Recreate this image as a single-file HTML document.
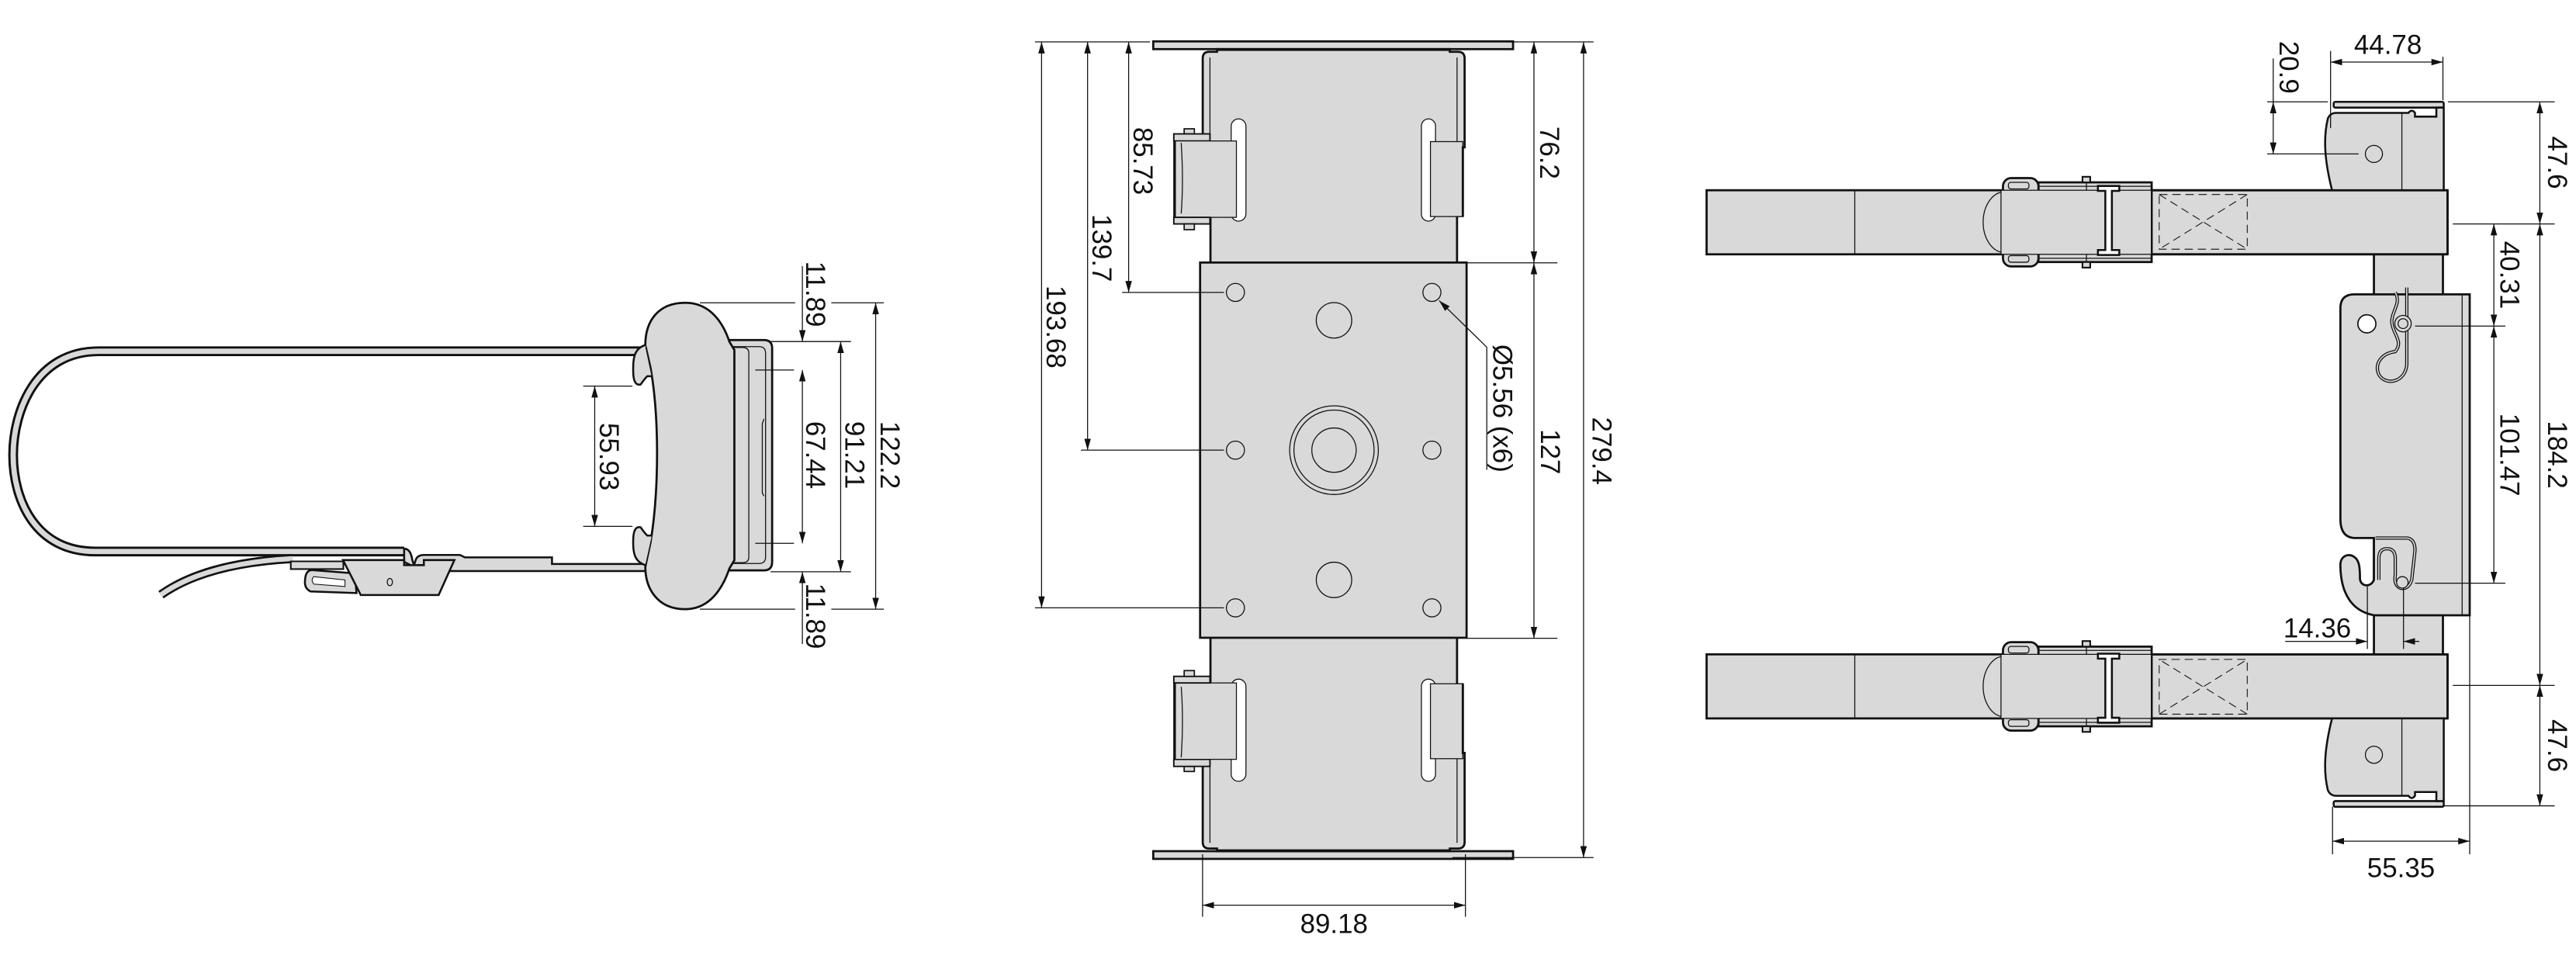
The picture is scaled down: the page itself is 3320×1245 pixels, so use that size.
<!DOCTYPE html>
<html><head><meta charset="utf-8"><style>
html,body{margin:0;padding:0;background:#fff;}
svg{display:block;}
text{font-family:"Liberation Sans",sans-serif;font-size:16.5px;fill:#111;}
</style></head><body>
<svg width="3320" height="1245" viewBox="0 0 1568 588" preserveAspectRatio="none" xmlns="http://www.w3.org/2000/svg">
<defs>
<marker id="a" markerUnits="userSpaceOnUse" markerWidth="7" markerHeight="4" refX="7" refY="2" orient="auto-start-reverse"><path d="M0,0 L7,2 L0,4 z" fill="#111"/></marker>
</defs>
<g fill="none" stroke="#111" stroke-width="0.6">

<!-- ================= LEFT VIEW ================= -->
<path d="M392 213.8 L60 213.8 C22 213.8 8 250 8 277 C8 305 22 335.7 58 335.7 L246 335.7" stroke="#111" stroke-width="6"/>
<path d="M392 213.8 L60 213.8 C22 213.8 8 250 8 277 C8 305 22 335.7 58 335.7 L246 335.7" stroke="#d9d9d9" stroke-width="3.2"/>
<path d="M178 340 C140 342 115 350 98 362" stroke="#111" stroke-width="5.5"/>
<path d="M178 340 C140 342 115 350 98 362" stroke="#d9d9d9" stroke-width="3"/>
<path d="M177 341.7 L209 341.7 L209 346.4 L177 346.4 Z" fill="#d9d9d9" stroke-width="1"/>
<path d="M246 334 Q250 334 251 341 L252 344 L253 341 Q254 337.8 258 337.8 L280 337.8 L283 339.3 L336 339.3 L336 343.3 L393 343.3 L393 347.6 L274 347.6 L274 344 L254 344 Q252 346 250 344 L246 342 L246 334 Z" fill="#d9d9d9" stroke-width="1.2"/>
<path d="M190 347 L216 349 L217 361 L189 360 Q185 358 185.7 353 Q186 347 190 347 Z" fill="#d9d9d9" stroke-width="1.2"/>
<path d="M191 351 L210 353 L210 357 L191 355.5 Q189 353 191 351 Z" fill="#fff" stroke-width="0.5"/>
<path d="M208.8 340.9 L246 340.9 L246 344 L258 344 L258 340.9 L276.6 340.9 L267 362.2 L219.6 362.2 Z" fill="#d9d9d9" stroke-width="1.2"/>
<ellipse cx="237.3" cy="354.3" rx="1.6" ry="2.2" stroke-width="0.6"/>
<path d="M442.4 207 L465 207 Q470 207 470 212 L470 342 Q470 347.2 465 347.2 L442.4 347.2 Z" fill="#d9d9d9" stroke-width="1.3"/>
<path d="M444 211 L462 211 Q466 211 466 215 L466 339 Q466 343 462 343 L444 343" stroke-width="0.6"/>
<path d="M445.6 211.5 L452 211.5 Q455.8 211.5 455.8 215 L455.8 339 Q455.8 342.5 452 342.5 L445.6 342.5" stroke-width="0.6"/>
<path d="M465 255 L464 258 L464 300 L465 302" stroke-width="0.6"/>
<path d="M417 184.3 C432 184.3 440 196 444 208 L447 213 L447 341 L444 346 C440 358 432 370.8 417 370.8 C400 370.8 392.8 358 392.8 345 L396 330 C401 300 401.5 255 396 224 L392.8 210 C392.8 195 401 184.3 417 184.3 Z" fill="#d9d9d9" stroke-width="1.3"/>
<path d="M393 210 C386 212 385 218 385.5 228 Q386 235 390 234 Q392 231 394 229 L397 229" fill="#d9d9d9" stroke-width="1.2"/>
<path d="M393 344 C386 342 385 336 385.5 327 Q386 320 390 321 Q392 324 394 326 L397 326" fill="#d9d9d9" stroke-width="1.2"/>
<path d="M393 211 L397 230 M393 344 L397 326" stroke-width="0.5"/>
<path d="M355 235 L385 235 M355 320.4 L385 320.4"/>
<path d="M362 235 L362 320.4" marker-start="url(#a)" marker-end="url(#a)"/>
<path d="M426 184.3 L484 184.3 M506 184.3 L538 184.3 M426 370.8 L484 370.8 M506 370.8 L538 370.8"/>
<path d="M469 207.9 L518 207.9 M469 348 L518 348 M459.7 225.2 L483.3 225.2 M459.7 330.7 L483.3 330.7"/>
<path d="M488.4 162 L488.4 207.9" marker-end="url(#a)"/>
<path d="M488.4 392 L488.4 348" marker-end="url(#a)"/>
<path d="M488.4 225.2 L488.4 330.7" marker-start="url(#a)" marker-end="url(#a)"/>
<path d="M511.7 207.9 L511.7 348" marker-start="url(#a)" marker-end="url(#a)"/>
<path d="M533 184.3 L533 370.8" marker-start="url(#a)" marker-end="url(#a)"/>

<!-- ================= MIDDLE VIEW ================= -->
<g id="mup">
<rect x="702" y="25.2" width="219" height="4.7" fill="#d9d9d9" stroke-width="1.3"/>
<path d="M736.8 160 L736.8 132 L732.1 132 L732.1 35.5 Q732.1 31.5 736 31.5 L740.8 31.5 L740.8 29.9 L882.5 29.9 L882.5 31.5 L887.5 31.5 Q891.5 31.5 891.5 35.5 L891.5 89.7 L890.4 89.7 L890.4 131.5 L886.9 131.5 L886.9 160 Z" fill="#d9d9d9" stroke-width="1.3"/>
<path d="M740.8 30.7 L882.5 30.7 M736.5 35 L736.5 132 M886.9 35 L886.9 89"/>
<rect x="749.4" y="72.4" width="9" height="62.2" rx="4.5" fill="#fff" stroke-width="0.6"/>
<rect x="865.2" y="72.4" width="8.6" height="62.2" rx="4.3" fill="#fff" stroke-width="0.6"/>
<rect x="720.8" y="78.4" width="6.2" height="4" fill="#d9d9d9" stroke-width="0.8"/>
<rect x="714.5" y="81.5" width="22" height="4.3" fill="#d9d9d9" stroke-width="0.9"/>
<rect x="714.5" y="85.8" width="38.1" height="46.5" fill="#d9d9d9" stroke-width="0.6"/>
<path d="M715 85.8 L715 132.3" stroke-width="1.5"/>
<path d="M719 87 Q720.5 110 719 130"/>
<rect x="714.5" y="132.3" width="22" height="4" fill="#d9d9d9" stroke-width="0.9"/>
<rect x="720.8" y="136.3" width="6.2" height="3.5" fill="#d9d9d9" stroke-width="0.8"/>
<rect x="870.7" y="86.2" width="19.7" height="45.6" fill="#d9d9d9" stroke-width="0.6"/>
<path d="M890.4 89 L890.4 131.5" stroke-width="1.3"/>
</g>
<use href="#mup" transform="matrix(1 0 0 -1 0 548)"/>
<rect x="730.5" y="159.8" width="162.2" height="228.4" fill="#d9d9d9" stroke-width="1.3"/>
<g fill="#d9d9d9" stroke-width="0.6">
<circle cx="752" cy="178" r="5.5"/><circle cx="871.6" cy="178" r="5.5"/>
<circle cx="752" cy="274" r="5.5"/><circle cx="871.6" cy="274" r="5.5"/>
<circle cx="752" cy="370" r="5.5"/><circle cx="871.6" cy="370" r="5.5"/>
<circle cx="812" cy="195" r="10.8"/><circle cx="812" cy="353" r="10.8"/>
<circle cx="812" cy="274" r="27"/><circle cx="812" cy="274" r="24.4"/><circle cx="812" cy="274" r="13.5"/>
</g>
<path d="M905 211.3 L876 183" marker-end="url(#a)"/>
<path d="M905 211.3 L905 286"/>
<path d="M630 25.5 L700 25.5 M683 178 L745 178 M658 274 L745 274 M630 370 L745 370"/>
<path d="M634 25.5 L634 370" marker-start="url(#a)" marker-end="url(#a)"/>
<path d="M662 25.5 L662 274" marker-start="url(#a)" marker-end="url(#a)"/>
<path d="M687 25.5 L687 178" marker-start="url(#a)" marker-end="url(#a)"/>
<path d="M917 25.5 L970 25.5 M893 160 L948 160 M893 388.5 L948 388.5 M884 522 L970 522"/>
<path d="M933.7 25.5 L933.7 160" marker-start="url(#a)" marker-end="url(#a)"/>
<path d="M933.7 160 L933.7 388.5" marker-start="url(#a)" marker-end="url(#a)"/>
<path d="M963.9 25.5 L963.9 522" marker-start="url(#a)" marker-end="url(#a)"/>
<path d="M732 520 L732 558 M892 520 L892 558"/>
<path d="M732 551 L892 551" marker-start="url(#a)" marker-end="url(#a)"/>

<!-- ================= RIGHT VIEW ================= -->
<rect x="1445" y="150" width="42" height="252" fill="#d9d9d9" stroke-width="1.3"/>
<g id="rup">
<rect x="1038.8" y="115.8" width="451" height="39" fill="#d9d9d9" stroke-width="1.3"/>
<path d="M1129 115.8 L1129 154.8"/>
<path d="M1218 117 A13 18.5 0 0 0 1218 153.5"/>
<rect x="1240.8" y="111" width="68.9" height="48.5" fill="#d9d9d9" stroke-width="1.3"/>
<path d="M1240.8 113.4 L1309.7 113.4 M1240.8 157.2 L1309.7 157.2 M1270 111 L1270 159.5"/>
<rect x="1267.6" y="107.6" width="4.7" height="3.4" fill="#d9d9d9" stroke-width="1"/>
<rect x="1267.6" y="159.5" width="4.7" height="3.4" fill="#d9d9d9" stroke-width="1"/>
<rect x="1219.2" y="108.4" width="21.6" height="53.8" rx="5" fill="#d9d9d9" stroke-width="1.3"/>
<rect x="1222.5" y="111" width="12.5" height="4" rx="1.5"/>
<rect x="1222.5" y="155.6" width="12.5" height="4" rx="1.5"/>
<rect x="1218" y="115.8" width="64.5" height="39" fill="#d9d9d9" stroke-width="0.6"/>
<rect x="1282.5" y="115.8" width="27" height="39" fill="#d9d9d9" stroke-width="0.6"/>
<path d="M1277 113.2 h13 v3 h-4.5 v36 h4.5 v3 h-13 v-3 h4.5 v-36 h-4.5 z" fill="#fff" stroke-width="1.2"/>
<path d="M1309.7 115.8 L1489.8 115.8 M1309.7 154.8 L1489.8 154.8" stroke-width="1.3"/>
<path d="M1489.8 115.8 L1489.8 154.8" stroke-width="1.3"/>
<g stroke-dasharray="5 3" stroke-width="0.5">
<rect x="1314.3" y="118.4" width="53.6" height="33.3"/>
<path d="M1314.3 118.4 L1367.9 151.7 M1367.9 118.4 L1314.3 151.7"/>
</g>
<rect x="1420.5" y="62" width="67" height="3.5" rx="1" fill="#d9d9d9" stroke-width="1.2"/>
<path d="M1419.5 115.8 C1415 98 1414 84 1417 72 Q1418.5 68.7 1422 68.7 L1466 68.7 Q1468 66 1470 68.7 L1470 71 L1483 71 L1483 65.5 L1487.5 65.5 L1487.5 115.8 Z" fill="#d9d9d9" stroke-width="1.2"/>
<path d="M1462 69 L1462 115.8"/>
<circle cx="1445" cy="93.7" r="5.2" fill="#d9d9d9"/>
</g>
<use href="#rup" transform="matrix(1 0 0 -1 0 553.1)"/>
<path d="M1433 179.2 L1503.3 179.2 L1503.3 374.5 L1445 374.5 C1432 372 1425 362 1424.6 345 C1424 338 1430 336.5 1433 339 C1436 341 1436.5 345 1436.5 352 C1436.5 357 1443 358 1445 353 L1445 327.5 L1434 327.5 Q1424.6 327.5 1424.6 316 L1424.6 187.6 Q1424.6 179.2 1433 179.2 Z" fill="#d9d9d9" stroke-width="1.3"/>
<path d="M1445 179.2 L1487 179.2 M1445 374.5 L1487 374.5 M1498.7 179.2 L1498.7 374.5"/>
<circle cx="1440.7" cy="197.1" r="5.5" fill="#fff" stroke-width="0.8"/>
<path d="M1458 178 C1462 185 1455 190 1456 197 C1457 204 1463 208 1458 214 C1450 215 1445 221 1448 228 C1452 235 1464 233 1465 222 L1465 175" stroke-width="2"/>
<path d="M1458 178 C1462 185 1455 190 1456 197 C1457 204 1463 208 1458 214 C1450 215 1445 221 1448 228 C1452 235 1464 233 1465 222 L1465 175" stroke="#d9d9d9" stroke-width="0.8"/>
<circle cx="1462.7" cy="197" r="5" fill="#d9d9d9"/><circle cx="1462.7" cy="197" r="3"/>
<path d="M1446 327.5 L1465 327.5 Q1470 328 1470 335 L1468 353 Q1466 359 1461 358 Q1457 356 1458 350 L1458 340 Q1458 334 1453 334 Q1448 334 1448 340 L1448 353" stroke-width="2"/>
<path d="M1446 327.5 L1465 327.5 Q1470 328 1470 335 L1468 353 Q1466 359 1461 358 Q1457 356 1458 350 L1458 340 Q1458 334 1453 334 Q1448 334 1448 340 L1448 353" stroke="#d9d9d9" stroke-width="0.8"/>
<circle cx="1462.3" cy="354.5" r="3.5" fill="#d9d9d9"/>
<path d="M1418.6 31 L1418.6 78 M1487 34.6 L1487 61"/>
<path d="M1418.6 37.8 L1487 37.8" marker-start="url(#a)" marker-end="url(#a)"/>
<path d="M1380 62 L1417 62 M1380 93.7 L1435.7 93.7 M1383.7 35.6 L1383.7 62"/>
<path d="M1383.7 62 L1383.7 93.7" marker-start="url(#a)" marker-end="url(#a)"/>
<path d="M1490 62 L1555 62 M1493 136.3 L1555 136.3 M1493 417.2 L1555 417.2 M1487 490.5 L1555 490.5 M1470 198.5 L1525 198.5 M1470 355 L1525 355"/>
<path d="M1546 62 L1546 136.3" marker-start="url(#a)" marker-end="url(#a)"/>
<path d="M1546 136.3 L1546 417.2" marker-start="url(#a)" marker-end="url(#a)"/>
<path d="M1546 417.2 L1546 490.5" marker-start="url(#a)" marker-end="url(#a)"/>
<path d="M1518 136.3 L1518 198.5" marker-start="url(#a)" marker-end="url(#a)"/>
<path d="M1518 198.5 L1518 355" marker-start="url(#a)" marker-end="url(#a)"/>
<path d="M1441 357 L1441 395 M1463 358 L1463 395"/>
<path d="M1391 390.4 L1441 390.4" marker-end="url(#a)"/>
<path d="M1472.6 390.4 L1463 390.4" marker-end="url(#a)"/>
<path d="M1419.8 491 L1419.8 520 M1503.3 375 L1503.3 520"/>
<path d="M1419.8 512 L1503.3 512" marker-start="url(#a)" marker-end="url(#a)"/>
</g>

<g text-anchor="middle">
<text transform="translate(496.7,179) rotate(90)" dy="0.36em">11.89</text>
<text transform="translate(496.7,277) rotate(90)" dy="0.36em">67.44</text>
<text transform="translate(520.5,277) rotate(90)" dy="0.36em">91.21</text>
<text transform="translate(542,277) rotate(90)" dy="0.36em">122.2</text>
<text transform="translate(496.7,375) rotate(90)" dy="0.36em">11.89</text>
<text transform="translate(371,278) rotate(90)" dy="0.36em">55.93</text>

<text transform="translate(696,98) rotate(90)" dy="0.36em">85.73</text>
<text transform="translate(671,151) rotate(90)" dy="0.36em">139.7</text>
<text transform="translate(643,199) rotate(90)" dy="0.36em">193.68</text>
<text transform="translate(943.5,93) rotate(90)" dy="0.36em">76.2</text>
<text transform="translate(944,275) rotate(90)" dy="0.36em">127</text>
<text transform="translate(975.4,274.5) rotate(90)" dy="0.36em">279.4</text>
<text transform="translate(914.8,248.6) rotate(90)" dy="0.36em">Ø5.56 (x6)</text>
<text x="812" y="568">89.18</text>

<text x="1453.5" y="32.8">44.78</text>
<text transform="translate(1393.5,41) rotate(90)" dy="0.36em">20.9</text>
<text transform="translate(1557,99) rotate(90)" dy="0.36em">47.6</text>
<text transform="translate(1557,276.8) rotate(90)" dy="0.36em">184.2</text>
<text transform="translate(1557,453.9) rotate(90)" dy="0.36em">47.6</text>
<text transform="translate(1528,167.4) rotate(90)" dy="0.36em">40.31</text>
<text transform="translate(1528,276.8) rotate(90)" dy="0.36em">101.47</text>
<text x="1410.5" y="388">14.36</text>
<text x="1461.5" y="534">55.35</text>
</g>
</svg>
</body></html>
